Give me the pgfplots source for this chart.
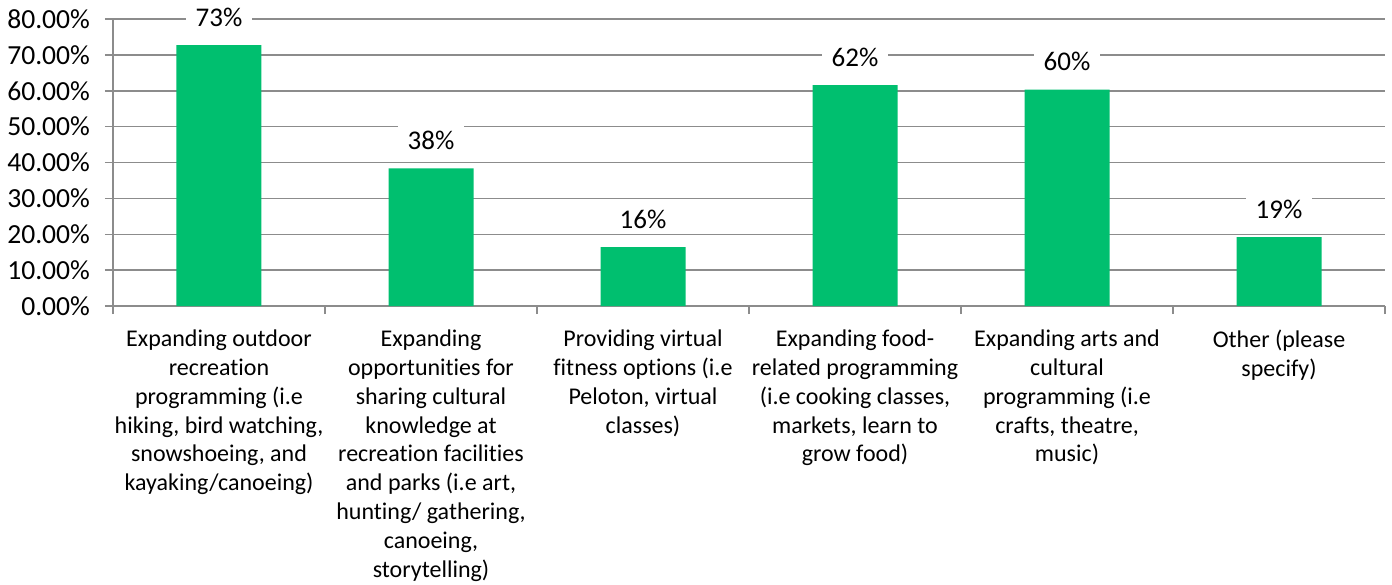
\documentclass[border=0pt]{standalone}
\usepackage{pgfplots}
\pgfplotsset{compat=1.18}
\usepackage{fontspec}
\setmainfont{Carlito}[Ligatures=NoCommon]
\definecolor{bargreen}{HTML}{00BF6F}
\definecolor{gridgray}{HTML}{8C8C8C}
\begin{document}
\begin{tikzpicture}
\begin{axis}[
    name=ax,
    scale only axis,
    width=636pt, height=143.5pt,
    ybar, bar width=42.5pt,
    xmin=-0.5, xmax=5.5,
    ymin=0, ymax=80,
    ytick={0,10,...,80},
    xtick={0,...,5},
    minor xtick={-0.5,0.5,...,5.5},
    xticklabels={
      {Expanding outdoor\\recreation\\programming (i.e\\hiking, bird watching,\\snowshoeing, and\\kayaking/canoeing)},
      {Expanding\\opportunities for\\sharing cultural\\knowledge at\\recreation facilities\\and parks (i.e art,\\hunting/ gathering,\\canoeing,\\storytelling)},
      {Providing virtual\\fitness options (i.e\\Peloton, virtual\\classes)},
      {Expanding food-\\related programming\\(i.e cooking classes,\\markets, learn to\\grow food)},
      {Expanding arts and\\cultural\\programming (i.e\\crafts, theatre,\\music)},
      {Other (please\\specify)}},
    yticklabel={\pgfmathprintnumber[assume math mode=true,fixed,fixed zerofill,precision=2]{\tick}\%},
    axis x line*=bottom, axis y line*=left,
    axis line style={gridgray, line width=0.75pt, -},
    ymajorgrids,
    major grid style={gridgray, line width=0.75pt},
    tick align=outside,
    major tick length=4pt,
    minor tick length=4pt,
    x tick style={draw=none},
    minor x tick style={draw=gridgray, line width=0.75pt},
    y tick style={gridgray, line width=0.75pt},
    ticklabel style={font=\fontsize{13.8}{14}\selectfont, text=black},
    xticklabel style={font=\fontsize{12}{14.4}\selectfont, align=center, anchor=north, yshift=-4.5pt},
    yticklabel style={xshift=-4pt},
    nodes near coords={\pgfmathprintnumber[assume math mode=true,fixed,precision=0]{\pgfplotspointmeta}\%},
    every node near coord/.append style={font=\fontsize{13.5}{14}\selectfont, text=black, fill=white, anchor=base, yshift=9.5pt, inner xsep=5pt, inner ysep=3pt},
    clip=false,
]
\addplot[fill=bargreen, draw=none] coordinates {(0,72.7) (1,38.4) (2,16.4) (3,61.6) (4,60.3) (5,19.2)};
\end{axis}
\pgfresetboundingbox
\path ([shift={(-56.5pt,-139pt)}]ax.south west) rectangle ([shift={(639.5pt,153pt)}]ax.south west);
\end{tikzpicture}
\end{document}
